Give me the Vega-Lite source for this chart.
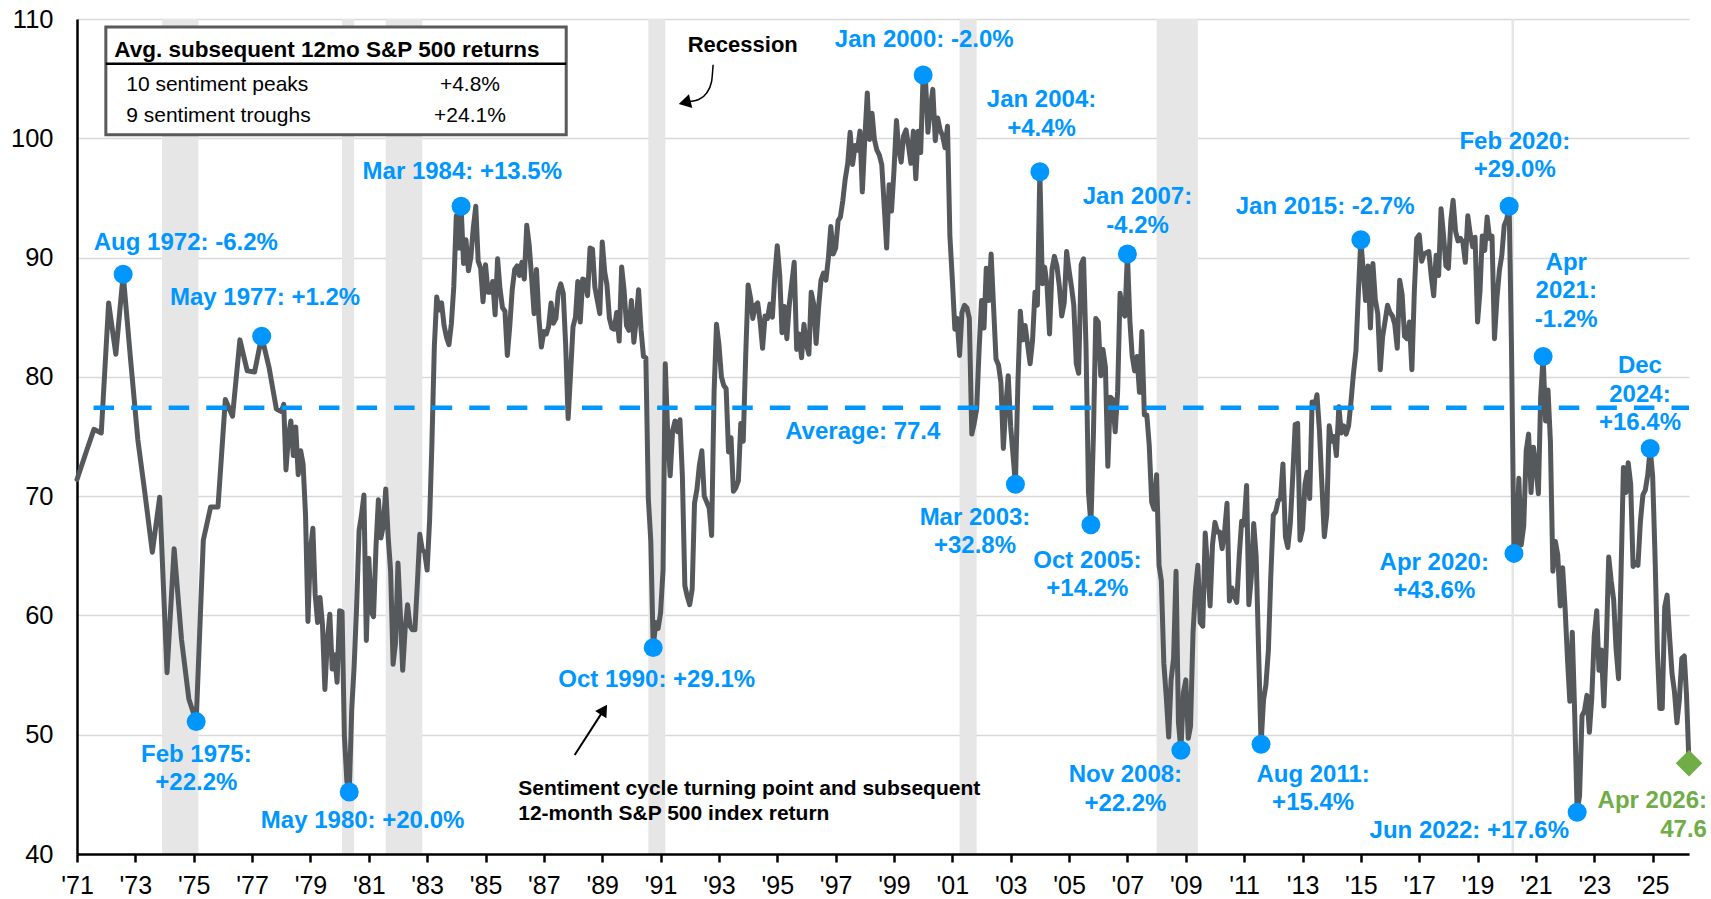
{
  "$schema": "https://vega.github.io/schema/vega-lite/v6.json",
  "width": 1612,
  "height": 835,
  "autosize": {"type": "none"},
  "padding": {"left": 77, "top": 19, "right": 22, "bottom": 45},
  "background": "white",
  "config": {"view": {"stroke": null}, "font": "Liberation Sans"},
  "datasets": {
    "rec": [
      {"start": "1973-12-01", "end": "1975-03-01"},
      {"start": "1980-02-01", "end": "1980-07-01"},
      {"start": "1981-08-01", "end": "1982-11-01"},
      {"start": "1990-08-01", "end": "1991-03-01"},
      {"start": "2001-04-01", "end": "2001-11-01"},
      {"start": "2008-01-01", "end": "2009-06-01"},
      {"start": "2020-03-01", "end": "2020-04-01"}
    ],
    "sent": [
      {"date":"1971-01-01","v":71.4},{"date":"1971-05-01","v":73.8},{"date":"1971-08-01","v":75.6},{"date":"1971-11-01","v":75.3},
      {"date":"1972-02-01","v":86.2},{"date":"1972-05-01","v":81.9},{"date":"1972-08-01","v":88.6},{"date":"1972-11-01","v":81.5},
      {"date":"1973-02-01","v":74.7},{"date":"1973-05-01","v":70.2},{"date":"1973-08-01","v":65.3},{"date":"1973-11-01","v":69.9},
      {"date":"1974-02-01","v":55.2},{"date":"1974-05-01","v":65.6},{"date":"1974-08-01","v":58.0},{"date":"1974-11-01","v":53.0},
      {"date":"1975-02-01","v":51.1},{"date":"1975-05-01","v":66.3},{"date":"1975-08-01","v":69.1},{"date":"1975-11-01","v":69.1},
      {"date":"1976-02-01","v":78.1},{"date":"1976-05-01","v":76.7},{"date":"1976-08-01","v":83.1},{"date":"1976-11-01","v":80.5},
      {"date":"1977-02-01","v":80.4},{"date":"1977-05-01","v":83.4},{"date":"1977-08-01","v":80.8},{"date":"1977-11-01","v":77.3},
      {"date":"1978-01-01","v":77.1},{"date":"1978-02-01","v":77.7},{"date":"1978-03-01","v":72.2},{"date":"1978-04-01","v":75.0},{"date":"1978-05-01","v":76.3},{"date":"1978-06-01","v":73.4},{"date":"1978-07-01","v":75.8},{"date":"1978-08-01","v":71.8},{"date":"1978-09-01","v":73.8},{"date":"1978-10-01","v":72.7},{"date":"1978-11-01","v":68.4},{"date":"1978-12-01","v":59.5},
      {"date":"1979-01-01","v":65.5},{"date":"1979-02-01","v":67.3},{"date":"1979-03-01","v":61.8},{"date":"1979-04-01","v":59.4},{"date":"1979-05-01","v":61.5},{"date":"1979-06-01","v":59.2},{"date":"1979-07-01","v":53.8},{"date":"1979-08-01","v":57.9},{"date":"1979-09-01","v":60.1},{"date":"1979-10-01","v":55.5},{"date":"1979-11-01","v":56.7},{"date":"1979-12-01","v":54.4},
      {"date":"1980-01-01","v":60.4},{"date":"1980-02-01","v":60.3},{"date":"1980-03-01","v":49.9},{"date":"1980-04-01","v":46.1},{"date":"1980-05-01","v":45.2},{"date":"1980-06-01","v":52.1},{"date":"1980-07-01","v":55.7},{"date":"1980-08-01","v":60.7},{"date":"1980-09-01","v":67.1},{"date":"1980-10-01","v":68.4},{"date":"1980-11-01","v":70.1},{"date":"1980-12-01","v":57.9},
      {"date":"1981-01-01","v":64.8},{"date":"1981-02-01","v":60.3},{"date":"1981-03-01","v":59.9},{"date":"1981-04-01","v":65.8},{"date":"1981-05-01","v":69.7},{"date":"1981-06-01","v":66.5},{"date":"1981-07-01","v":67.5},{"date":"1981-08-01","v":70.6},{"date":"1981-09-01","v":66.5},{"date":"1981-10-01","v":63.7},{"date":"1981-11-01","v":55.9},{"date":"1981-12-01","v":57.7},
      {"date":"1982-01-01","v":64.4},{"date":"1982-02-01","v":59.9},{"date":"1982-03-01","v":55.4},{"date":"1982-04-01","v":58.9},{"date":"1982-05-01","v":60.9},{"date":"1982-06-01","v":59.1},{"date":"1982-07-01","v":58.8},{"date":"1982-08-01","v":58.8},{"date":"1982-09-01","v":62.7},{"date":"1982-10-01","v":66.8},{"date":"1982-11-01","v":65.5},{"date":"1982-12-01","v":65.3},
      {"date":"1983-01-01","v":63.8},{"date":"1983-02-01","v":68.0},{"date":"1983-03-01","v":74.2},{"date":"1983-04-01","v":82.5},{"date":"1983-05-01","v":86.7},{"date":"1983-06-01","v":85.6},{"date":"1983-07-01","v":86.2},{"date":"1983-08-01","v":84.3},{"date":"1983-09-01","v":83.3},{"date":"1983-10-01","v":82.7},{"date":"1983-11-01","v":84.5},{"date":"1983-12-01","v":87.6},
      {"date":"1984-01-01","v":93.5},{"date":"1984-02-01","v":90.8},{"date":"1984-03-01","v":94.3},{"date":"1984-04-01","v":89.5},{"date":"1984-05-01","v":91.5},{"date":"1984-06-01","v":88.9},{"date":"1984-07-01","v":90.0},{"date":"1984-08-01","v":92.5},{"date":"1984-09-01","v":94.3},{"date":"1984-10-01","v":89.7},{"date":"1984-11-01","v":89.1},{"date":"1984-12-01","v":86.3},
      {"date":"1985-01-01","v":89.4},{"date":"1985-02-01","v":87.1},{"date":"1985-03-01","v":87.1},{"date":"1985-04-01","v":88.0},{"date":"1985-05-01","v":85.2},{"date":"1985-06-01","v":89.9},{"date":"1985-07-01","v":87.4},{"date":"1985-08-01","v":85.8},{"date":"1985-09-01","v":85.5},{"date":"1985-10-01","v":81.8},{"date":"1985-11-01","v":84.3},{"date":"1985-12-01","v":87.3},
      {"date":"1986-01-01","v":89.0},{"date":"1986-02-01","v":89.3},{"date":"1986-03-01","v":88.5},{"date":"1986-04-01","v":89.6},{"date":"1986-05-01","v":88.2},{"date":"1986-06-01","v":92.7},{"date":"1986-07-01","v":91.1},{"date":"1986-08-01","v":88.3},{"date":"1986-09-01","v":85.3},{"date":"1986-10-01","v":89.0},{"date":"1986-11-01","v":84.8},{"date":"1986-12-01","v":82.5},
      {"date":"1987-01-01","v":83.8},{"date":"1987-02-01","v":83.6},{"date":"1987-03-01","v":84.2},{"date":"1987-04-01","v":86.2},{"date":"1987-05-01","v":84.5},{"date":"1987-06-01","v":84.9},{"date":"1987-07-01","v":87.1},{"date":"1987-08-01","v":87.8},{"date":"1987-09-01","v":87.0},{"date":"1987-10-01","v":82.7},{"date":"1987-11-01","v":76.5},{"date":"1987-12-01","v":80.2},
      {"date":"1988-01-01","v":84.2},{"date":"1988-02-01","v":85.0},{"date":"1988-03-01","v":88.0},{"date":"1988-04-01","v":84.6},{"date":"1988-05-01","v":88.2},{"date":"1988-06-01","v":88.1},{"date":"1988-07-01","v":86.8},{"date":"1988-08-01","v":90.8},{"date":"1988-09-01","v":90.7},{"date":"1988-10-01","v":87.5},{"date":"1988-11-01","v":86.4},{"date":"1988-12-01","v":85.3},
      {"date":"1989-01-01","v":91.3},{"date":"1989-02-01","v":88.8},{"date":"1989-03-01","v":87.7},{"date":"1989-04-01","v":84.9},{"date":"1989-05-01","v":84.1},{"date":"1989-06-01","v":84.0},{"date":"1989-07-01","v":85.4},{"date":"1989-08-01","v":83.0},{"date":"1989-09-01","v":89.2},{"date":"1989-10-01","v":87.3},{"date":"1989-11-01","v":84.3},{"date":"1989-12-01","v":83.9},
      {"date":"1990-01-01","v":86.4},{"date":"1990-02-01","v":82.9},{"date":"1990-03-01","v":84.7},{"date":"1990-04-01","v":87.3},{"date":"1990-05-01","v":84.0},{"date":"1990-06-01","v":81.7},{"date":"1990-07-01","v":81.6},{"date":"1990-08-01","v":69.8},{"date":"1990-09-01","v":66.2},{"date":"1990-10-01","v":57.3},{"date":"1990-11-01","v":59.4},{"date":"1990-12-01","v":58.9},
      {"date":"1991-01-01","v":60.2},{"date":"1991-02-01","v":63.8},{"date":"1991-03-01","v":81.1},{"date":"1991-04-01","v":75.2},{"date":"1991-05-01","v":71.7},{"date":"1991-06-01","v":75.5},{"date":"1991-07-01","v":76.3},{"date":"1991-08-01","v":75.4},{"date":"1991-09-01","v":76.4},{"date":"1991-10-01","v":71.7},{"date":"1991-11-01","v":62.5},{"date":"1991-12-01","v":61.6},
      {"date":"1992-01-01","v":60.9},{"date":"1992-02-01","v":62.2},{"date":"1992-03-01","v":69.4},{"date":"1992-04-01","v":70.6},{"date":"1992-05-01","v":72.6},{"date":"1992-06-01","v":73.8},{"date":"1992-07-01","v":70.0},{"date":"1992-08-01","v":69.5},{"date":"1992-09-01","v":69.0},{"date":"1992-10-01","v":66.7},{"date":"1992-11-01","v":78.7},{"date":"1992-12-01","v":84.4},
      {"date":"1993-01-01","v":82.7},{"date":"1993-02-01","v":80.0},{"date":"1993-03-01","v":79.3},{"date":"1993-04-01","v":79.0},{"date":"1993-05-01","v":73.7},{"date":"1993-06-01","v":74.9},{"date":"1993-07-01","v":70.4},{"date":"1993-08-01","v":70.7},{"date":"1993-09-01","v":71.3},{"date":"1993-10-01","v":76.1},{"date":"1993-11-01","v":74.6},{"date":"1993-12-01","v":81.6},
      {"date":"1994-01-01","v":87.7},{"date":"1994-02-01","v":86.6},{"date":"1994-03-01","v":84.9},{"date":"1994-04-01","v":86.0},{"date":"1994-05-01","v":86.2},{"date":"1994-06-01","v":84.6},{"date":"1994-07-01","v":82.4},{"date":"1994-08-01","v":85.1},{"date":"1994-09-01","v":84.9},{"date":"1994-10-01","v":86.1},{"date":"1994-11-01","v":85.0},{"date":"1994-12-01","v":88.5},
      {"date":"1995-01-01","v":91.0},{"date":"1995-02-01","v":88.5},{"date":"1995-03-01","v":83.7},{"date":"1995-04-01","v":85.9},{"date":"1995-05-01","v":83.2},{"date":"1995-06-01","v":86.1},{"date":"1995-07-01","v":87.8},{"date":"1995-08-01","v":89.6},{"date":"1995-09-01","v":82.3},{"date":"1995-10-01","v":83.6},{"date":"1995-11-01","v":81.6},{"date":"1995-12-01","v":84.4},
      {"date":"1996-01-01","v":82.7},{"date":"1996-02-01","v":81.9},{"date":"1996-03-01","v":87.1},{"date":"1996-04-01","v":86.1},{"date":"1996-05-01","v":82.8},{"date":"1996-06-01","v":85.8},{"date":"1996-07-01","v":88.1},{"date":"1996-08-01","v":88.7},{"date":"1996-09-01","v":88.1},{"date":"1996-10-01","v":89.9},{"date":"1996-11-01","v":92.6},{"date":"1996-12-01","v":90.3},
      {"date":"1997-01-01","v":90.8},{"date":"1997-02-01","v":93.1},{"date":"1997-03-01","v":93.4},{"date":"1997-04-01","v":94.8},{"date":"1997-05-01","v":96.6},{"date":"1997-06-01","v":97.9},{"date":"1997-07-01","v":100.5},{"date":"1997-08-01","v":97.8},{"date":"1997-09-01","v":99.4},{"date":"1997-10-01","v":99.0},{"date":"1997-11-01","v":100.6},{"date":"1997-12-01","v":95.5},
      {"date":"1998-01-01","v":100.0},{"date":"1998-02-01","v":103.8},{"date":"1998-03-01","v":99.9},{"date":"1998-04-01","v":102.1},{"date":"1998-05-01","v":99.9},{"date":"1998-06-01","v":99.0},{"date":"1998-07-01","v":98.6},{"date":"1998-08-01","v":97.8},{"date":"1998-09-01","v":94.3},{"date":"1998-10-01","v":90.8},{"date":"1998-11-01","v":96.1},{"date":"1998-12-01","v":93.9},
      {"date":"1999-01-01","v":97.3},{"date":"1999-02-01","v":101.5},{"date":"1999-03-01","v":99.1},{"date":"1999-04-01","v":98.0},{"date":"1999-05-01","v":100.2},{"date":"1999-06-01","v":100.7},{"date":"1999-07-01","v":99.4},{"date":"1999-08-01","v":97.9},{"date":"1999-09-01","v":100.6},{"date":"1999-10-01","v":96.6},{"date":"1999-11-01","v":100.6},{"date":"1999-12-01","v":98.8},
      {"date":"2000-01-01","v":105.3},{"date":"2000-02-01","v":104.7},{"date":"2000-03-01","v":100.5},{"date":"2000-04-01","v":102.6},{"date":"2000-05-01","v":104.1},{"date":"2000-06-01","v":99.8},{"date":"2000-07-01","v":101.7},{"date":"2000-08-01","v":100.7},{"date":"2000-09-01","v":100.2},{"date":"2000-10-01","v":99.2},{"date":"2000-11-01","v":101.0},{"date":"2000-12-01","v":91.8},
      {"date":"2001-01-01","v":88.1},{"date":"2001-02-01","v":84.0},{"date":"2001-03-01","v":84.9},{"date":"2001-04-01","v":81.8},{"date":"2001-05-01","v":85.4},{"date":"2001-06-01","v":86.0},{"date":"2001-07-01","v":85.8},{"date":"2001-08-01","v":84.9},{"date":"2001-09-01","v":75.2},{"date":"2001-10-01","v":76.1},{"date":"2001-11-01","v":77.3},{"date":"2001-12-01","v":82.2},
      {"date":"2002-01-01","v":86.4},{"date":"2002-02-01","v":84.1},{"date":"2002-03-01","v":89.1},{"date":"2002-04-01","v":86.4},{"date":"2002-05-01","v":90.3},{"date":"2002-06-01","v":85.8},{"date":"2002-07-01","v":81.5},{"date":"2002-08-01","v":81.0},{"date":"2002-09-01","v":79.5},{"date":"2002-10-01","v":74.0},{"date":"2002-11-01","v":77.6},{"date":"2002-12-01","v":80.1},
      {"date":"2003-01-01","v":75.8},{"date":"2003-02-01","v":73.3},{"date":"2003-03-01","v":71.0},{"date":"2003-04-01","v":79.4},{"date":"2003-05-01","v":85.5},{"date":"2003-06-01","v":83.1},{"date":"2003-07-01","v":84.3},{"date":"2003-08-01","v":82.7},{"date":"2003-09-01","v":81.1},{"date":"2003-10-01","v":83.0},{"date":"2003-11-01","v":87.1},{"date":"2003-12-01","v":86.0},
      {"date":"2004-01-01","v":97.2},{"date":"2004-02-01","v":87.8},{"date":"2004-03-01","v":89.2},{"date":"2004-04-01","v":87.6},{"date":"2004-05-01","v":83.6},{"date":"2004-06-01","v":89.0},{"date":"2004-07-01","v":90.1},{"date":"2004-08-01","v":89.3},{"date":"2004-09-01","v":87.6},{"date":"2004-10-01","v":85.1},{"date":"2004-11-01","v":86.2},{"date":"2004-12-01","v":90.5},
      {"date":"2005-01-01","v":88.9},{"date":"2005-02-01","v":87.5},{"date":"2005-03-01","v":86.0},{"date":"2005-04-01","v":81.1},{"date":"2005-05-01","v":80.3},{"date":"2005-06-01","v":89.4},{"date":"2005-07-01","v":89.9},{"date":"2005-08-01","v":82.5},{"date":"2005-09-01","v":70.3},{"date":"2005-10-01","v":67.6},{"date":"2005-11-01","v":75.0},{"date":"2005-12-01","v":84.9},
      {"date":"2006-01-01","v":84.6},{"date":"2006-02-01","v":80.1},{"date":"2006-03-01","v":82.3},{"date":"2006-04-01","v":80.8},{"date":"2006-05-01","v":72.5},{"date":"2006-06-01","v":78.3},{"date":"2006-07-01","v":78.1},{"date":"2006-08-01","v":75.4},{"date":"2006-09-01","v":78.8},{"date":"2006-10-01","v":87.0},{"date":"2006-11-01","v":85.5},{"date":"2006-12-01","v":85.1},
      {"date":"2007-01-01","v":90.3},{"date":"2007-02-01","v":84.7},{"date":"2007-03-01","v":81.8},{"date":"2007-04-01","v":80.5},{"date":"2007-05-01","v":81.7},{"date":"2007-06-01","v":78.7},{"date":"2007-07-01","v":83.8},{"date":"2007-08-01","v":76.8},{"date":"2007-09-01","v":76.8},{"date":"2007-10-01","v":74.3},{"date":"2007-11-01","v":69.5},{"date":"2007-12-01","v":68.9},
      {"date":"2008-01-01","v":71.8},{"date":"2008-02-01","v":64.2},{"date":"2008-03-01","v":62.9},{"date":"2008-04-01","v":56.0},{"date":"2008-05-01","v":53.2},{"date":"2008-06-01","v":49.8},{"date":"2008-07-01","v":54.6},{"date":"2008-08-01","v":56.4},{"date":"2008-09-01","v":63.7},{"date":"2008-10-01","v":51.0},{"date":"2008-11-01","v":48.7},{"date":"2008-12-01","v":53.5},
      {"date":"2009-01-01","v":54.6},{"date":"2009-02-01","v":49.7},{"date":"2009-03-01","v":50.7},{"date":"2009-04-01","v":58.5},{"date":"2009-05-01","v":62.1},{"date":"2009-06-01","v":64.2},{"date":"2009-07-01","v":59.4},{"date":"2009-08-01","v":59.1},{"date":"2009-09-01","v":66.9},{"date":"2009-10-01","v":64.0},{"date":"2009-11-01","v":60.8},{"date":"2009-12-01","v":65.9},
      {"date":"2010-01-01","v":67.8},{"date":"2010-02-01","v":67.0},{"date":"2010-03-01","v":67.0},{"date":"2010-04-01","v":65.6},{"date":"2010-05-01","v":67.0},{"date":"2010-06-01","v":69.4},{"date":"2010-07-01","v":61.2},{"date":"2010-08-01","v":62.3},{"date":"2010-09-01","v":61.6},{"date":"2010-10-01","v":61.1},{"date":"2010-11-01","v":65.0},{"date":"2010-12-01","v":67.9},
      {"date":"2011-01-01","v":67.6},{"date":"2011-02-01","v":70.9},{"date":"2011-03-01","v":60.9},{"date":"2011-04-01","v":63.2},{"date":"2011-05-01","v":67.7},{"date":"2011-06-01","v":64.9},{"date":"2011-07-01","v":57.1},{"date":"2011-08-01","v":49.2},{"date":"2011-09-01","v":52.9},{"date":"2011-10-01","v":54.2},{"date":"2011-11-01","v":57.1},{"date":"2011-12-01","v":63.3},
      {"date":"2012-01-01","v":68.4},{"date":"2012-02-01","v":68.7},{"date":"2012-03-01","v":69.6},{"date":"2012-04-01","v":69.8},{"date":"2012-05-01","v":72.7},{"date":"2012-06-01","v":66.6},{"date":"2012-07-01","v":65.7},{"date":"2012-08-01","v":67.7},{"date":"2012-09-01","v":71.7},{"date":"2012-10-01","v":76.0},{"date":"2012-11-01","v":76.1},{"date":"2012-12-01","v":66.3},
      {"date":"2013-01-01","v":67.2},{"date":"2013-02-01","v":71.0},{"date":"2013-03-01","v":72.0},{"date":"2013-04-01","v":69.8},{"date":"2013-05-01","v":77.9},{"date":"2013-06-01","v":77.5},{"date":"2013-07-01","v":78.5},{"date":"2013-08-01","v":75.5},{"date":"2013-09-01","v":70.9},{"date":"2013-10-01","v":66.6},{"date":"2013-11-01","v":68.5},{"date":"2013-12-01","v":75.9},
      {"date":"2014-01-01","v":74.6},{"date":"2014-02-01","v":75.0},{"date":"2014-03-01","v":73.4},{"date":"2014-04-01","v":77.5},{"date":"2014-05-01","v":75.3},{"date":"2014-06-01","v":75.9},{"date":"2014-07-01","v":75.2},{"date":"2014-08-01","v":75.9},{"date":"2014-09-01","v":78.0},{"date":"2014-10-01","v":80.3},{"date":"2014-11-01","v":82.2},{"date":"2014-12-01","v":87.0},
      {"date":"2015-01-01","v":91.5},{"date":"2015-02-01","v":88.8},{"date":"2015-03-01","v":86.4},{"date":"2015-04-01","v":89.3},{"date":"2015-05-01","v":84.1},{"date":"2015-06-01","v":89.5},{"date":"2015-07-01","v":86.5},{"date":"2015-08-01","v":85.3},{"date":"2015-09-01","v":80.6},{"date":"2015-10-01","v":83.4},{"date":"2015-11-01","v":84.7},{"date":"2015-12-01","v":86.0},
      {"date":"2016-01-01","v":85.4},{"date":"2016-02-01","v":85.1},{"date":"2016-03-01","v":84.4},{"date":"2016-04-01","v":82.4},{"date":"2016-05-01","v":88.1},{"date":"2016-06-01","v":86.9},{"date":"2016-07-01","v":83.4},{"date":"2016-08-01","v":83.2},{"date":"2016-09-01","v":84.6},{"date":"2016-10-01","v":80.6},{"date":"2016-11-01","v":87.2},{"date":"2016-12-01","v":91.6},
      {"date":"2017-01-01","v":91.9},{"date":"2017-02-01","v":89.7},{"date":"2017-03-01","v":90.3},{"date":"2017-04-01","v":90.4},{"date":"2017-05-01","v":90.5},{"date":"2017-06-01","v":88.4},{"date":"2017-07-01","v":86.8},{"date":"2017-08-01","v":90.2},{"date":"2017-09-01","v":88.5},{"date":"2017-10-01","v":94.1},{"date":"2017-11-01","v":91.9},{"date":"2017-12-01","v":89.3},
      {"date":"2018-01-01","v":89.1},{"date":"2018-02-01","v":93.1},{"date":"2018-03-01","v":94.8},{"date":"2018-04-01","v":92.2},{"date":"2018-05-01","v":91.4},{"date":"2018-06-01","v":91.6},{"date":"2018-07-01","v":91.3},{"date":"2018-08-01","v":89.6},{"date":"2018-09-01","v":93.5},{"date":"2018-10-01","v":92.0},{"date":"2018-11-01","v":90.9},{"date":"2018-12-01","v":91.7},
      {"date":"2019-01-01","v":84.6},{"date":"2019-02-01","v":87.2},{"date":"2019-03-01","v":91.8},{"date":"2019-04-01","v":90.6},{"date":"2019-05-01","v":93.4},{"date":"2019-06-01","v":91.6},{"date":"2019-07-01","v":91.8},{"date":"2019-08-01","v":83.2},{"date":"2019-09-01","v":86.6},{"date":"2019-10-01","v":88.9},{"date":"2019-11-01","v":90.2},{"date":"2019-12-01","v":92.7},
      {"date":"2020-01-01","v":93.2},{"date":"2020-02-01","v":94.3},{"date":"2020-03-01","v":82.5},{"date":"2020-04-01","v":65.2},{"date":"2020-05-01","v":65.7},{"date":"2020-06-01","v":71.5},{"date":"2020-07-01","v":65.9},{"date":"2020-08-01","v":67.5},{"date":"2020-09-01","v":73.8},{"date":"2020-10-01","v":75.2},{"date":"2020-11-01","v":70.3},{"date":"2020-12-01","v":74.1},
      {"date":"2021-01-01","v":72.4},{"date":"2021-02-01","v":70.2},{"date":"2021-03-01","v":78.3},{"date":"2021-04-01","v":81.7},{"date":"2021-05-01","v":76.3},{"date":"2021-06-01","v":78.9},{"date":"2021-07-01","v":74.6},{"date":"2021-08-01","v":63.7},{"date":"2021-09-01","v":66.2},{"date":"2021-10-01","v":65.1},{"date":"2021-11-01","v":60.8},{"date":"2021-12-01","v":64.0},
      {"date":"2022-01-01","v":60.6},{"date":"2022-02-01","v":56.2},{"date":"2022-03-01","v":52.8},{"date":"2022-04-01","v":58.6},{"date":"2022-05-01","v":51.8},{"date":"2022-06-01","v":43.5},{"date":"2022-07-01","v":44.9},{"date":"2022-08-01","v":51.6},{"date":"2022-09-01","v":52.0},{"date":"2022-10-01","v":53.3},{"date":"2022-11-01","v":50.2},{"date":"2022-12-01","v":53.1},
      {"date":"2023-01-01","v":58.3},{"date":"2023-02-01","v":60.4},{"date":"2023-03-01","v":55.4},{"date":"2023-04-01","v":57.1},{"date":"2023-05-01","v":52.4},{"date":"2023-06-01","v":57.6},{"date":"2023-07-01","v":64.9},{"date":"2023-08-01","v":62.9},{"date":"2023-09-01","v":61.3},{"date":"2023-10-01","v":57.2},{"date":"2023-11-01","v":54.7},{"date":"2023-12-01","v":63.1},
      {"date":"2024-01-01","v":72.4},{"date":"2024-02-01","v":70.3},{"date":"2024-03-01","v":72.8},{"date":"2024-04-01","v":71.0},{"date":"2024-05-01","v":64.1},{"date":"2024-06-01","v":64.4},{"date":"2024-07-01","v":64.2},{"date":"2024-08-01","v":67.9},{"date":"2024-09-01","v":70.1},{"date":"2024-10-01","v":70.5},{"date":"2024-11-01","v":71.8},{"date":"2024-12-01","v":74.0},
      {"date":"2025-01-01","v":71.7},{"date":"2025-02-01","v":64.7},{"date":"2025-03-01","v":57.0},{"date":"2025-04-01","v":52.2},{"date":"2025-05-01","v":52.2},{"date":"2025-06-01","v":60.7},{"date":"2025-07-01","v":61.7},{"date":"2025-08-01","v":58.2},{"date":"2025-09-01","v":55.1},{"date":"2025-10-01","v":53.6},{"date":"2025-11-01","v":51.0},{"date":"2025-12-01","v":52.9},
      {"date":"2026-01-01","v":56.4},{"date":"2026-02-01","v":56.6},{"date":"2026-03-01","v":53.3},{"date":"2026-04-01","v":47.6}
    ],
    "turns": [
      {"date":"1972-08-01","v":88.6},{"date":"1975-02-01","v":51.1},{"date":"1977-05-01","v":83.4},{"date":"1980-05-01","v":45.2},
      {"date":"1984-03-01","v":94.3},{"date":"1990-10-01","v":57.3},{"date":"2000-01-01","v":105.3},{"date":"2003-03-01","v":71.0},
      {"date":"2004-01-01","v":97.2},{"date":"2005-10-01","v":67.6},{"date":"2007-01-01","v":90.3},{"date":"2008-11-01","v":48.7},
      {"date":"2011-08-01","v":49.2},{"date":"2015-01-01","v":91.5},{"date":"2020-02-01","v":94.3},{"date":"2020-04-01","v":65.2},
      {"date":"2021-04-01","v":81.7},{"date":"2022-06-01","v":43.5},{"date":"2024-12-01","v":74.0}
    ],
    "latest": [{"date":"2026-04-01","v":47.6}],
    "avg": [{"v":77.4}],
    "lab": [
      {"date":"1974-09-24","v":91.2,"text":"Aug 1972: -6.2%"},
      {"date":"1977-06-12","v":86.6,"text":"May 1977: +1.2%"},
      {"date":"1975-02-03","v":48.3,"text":"Feb 1975:\n+22.2%"},
      {"date":"1980-10-15","v":42.8,"text":"May 1980: +20.0%"},
      {"date":"1984-03-16","v":97.2,"text":"Mar 1984: +13.5%"},
      {"date":"1990-11-14","v":54.6,"text":"Oct 1990: +29.1%"},
      {"date":"2000-01-15","v":108.2,"text":"Jan 2000: -2.0%"},
      {"date":"2004-01-22","v":103.2,"text":"Jan 2004:\n+4.4%"},
      {"date":"2007-05-07","v":95.05,"text":"Jan 2007:\n-4.2%"},
      {"date":"2001-10-11","v":68.2,"text":"Mar 2003:\n+32.8%"},
      {"date":"2005-08-18","v":64.6,"text":"Oct 2005:\n+14.2%"},
      {"date":"2006-12-07","v":46.6,"text":"Nov 2008:\n+22.2%"},
      {"date":"2013-05-14","v":46.65,"text":"Aug 2011:\n+15.4%"},
      {"date":"2013-10-11","v":94.2,"text":"Jan 2015: -2.7%"},
      {"date":"2020-04-11","v":99.7,"text":"Feb 2020:\n+29.0%"},
      {"date":"2022-01-15","v":89.56,"text":"Apr\n2021:\n-1.2%"},
      {"date":"2017-07-08","v":64.42,"text":"Apr 2020:\n+43.6%"},
      {"date":"2024-07-26","v":80.87,"text":"Dec\n2024:\n+16.4%"},
      {"date":"2018-09-20","v":41.95,"text":"Jun 2022: +17.6%"},
      {"date":"1997-12-06","v":75.4,"text":"Average: 77.4"}
    ],
    "recnote": [{"date":"1993-10-26","v":107.8,"text":"Recession"}],
    "leftnote": [{"date":"1986-02-14","v":45.45,"text":"Sentiment cycle turning point and subsequent\n12-month S&P 500 index return"}],
    "latestlab": [{"date":"2026-11-12","v":44.41,"text":"Apr 2026:\n47.6"}],
    "box": [{"d1":"1971-12-28","d2":"1987-10-08","v1":109.32,"v2":100.29}],
    "boxline": [{"d1":"1971-12-28","d2":"1987-10-08","v":106.24}],
    "boxhead": [{"date":"1972-04-12","v":106.83,"text":"Avg. subsequent 12mo S&P 500 returns"}],
    "boxrows": [
      {"date":"1972-09-08","v":104.0,"text":"10 sentiment peaks"},
      {"date":"1972-09-08","v":101.4,"text":"9 sentiment troughs"}
    ],
    "boxvals": [
      {"date":"1984-06-20","v":104.0,"text":"+4.8%"},
      {"date":"1984-06-20","v":101.4,"text":"+24.1%"}
    ],
    "arrow": [{"d1":"1988-01-22","v1":48.3,"d2":"1989-01-22","v2":52.1}],
    "arrowhead": [{"date":"1989-01-22","v":52.1}],
    "curve": [
      {"date":"1992-01-04","v":103.08},
      {"date":"1992-04-15","v":103.23},
      {"date":"1992-07-30","v":103.79},
      {"date":"1992-10-01","v":104.76},
      {"date":"1992-10-20","v":106.16}
    ],
    "curvehead": [{"date":"1991-10-30","v":103.0}]
  },
  "layer": [
    {
      "data": {"name": "rec"},
      "mark": {"type": "rect", "color": "#e6e6e6"},
      "encoding": {
        "x": {"field": "start", "type": "temporal", "title": null,
          "scale": {"domain": [{"year": 1971, "month": 1, "date": 1}, {"year": 2026, "month": 4, "date": 1}]},
          "axis": {
            "values": [{"year":1971},{"year":1973},{"year":1975},{"year":1977},{"year":1979},{"year":1981},{"year":1983},{"year":1985},{"year":1987},{"year":1989},{"year":1991},{"year":1993},{"year":1995},{"year":1997},{"year":1999},{"year":2001},{"year":2003},{"year":2005},{"year":2007},{"year":2009},{"year":2011},{"year":2013},{"year":2015},{"year":2017},{"year":2019},{"year":2021},{"year":2023},{"year":2025}],
            "labelExpr": "\"'\" + timeFormat(datum.value, '%y')",
            "labelFont": "Liberation Sans", "labelFontSize": 25, "labelColor": "#000000",
            "labelPadding": 11, "labelFlush": false, "labelOverlap": false,
            "tickSize": 8, "tickWidth": 2.5, "tickColor": "#000000",
            "domainColor": "#000000", "domainWidth": 2.5,
            "grid": false, "zindex": 1, "title": null
          }
        },
        "x2": {"field": "end"}
      }
    },
    {
      "data": {"name": "box"},
      "mark": {"type": "rect", "fill": "#ffffff", "stroke": "#5a5a5a", "strokeWidth": 3},
      "encoding": {
        "x": {"field": "d1", "type": "temporal", "title": null},
        "x2": {"field": "d2"},
        "y": {"field": "v1", "type": "quantitative", "title": null},
        "y2": {"field": "v2"}
      }
    },
    {
      "data": {"name": "boxline"},
      "mark": {"type": "rule", "color": "#000000", "strokeWidth": 2.5},
      "encoding": {
        "x": {"field": "d1", "type": "temporal", "title": null},
        "x2": {"field": "d2"},
        "y": {"field": "v", "type": "quantitative", "title": null}
      }
    },
    {
      "data": {"name": "sent"},
      "mark": {"type": "line", "color": "#56595c", "strokeWidth": 5, "strokeJoin": "round", "strokeCap": "round"},
      "encoding": {
        "x": {"field": "date", "type": "temporal", "title": null},
        "y": {"field": "v", "type": "quantitative", "title": null,
          "scale": {"domain": [40, 110], "nice": false, "zero": false},
          "axis": {
            "values": [40, 50, 60, 70, 80, 90, 100, 110],
            "labelFont": "Liberation Sans", "labelFontSize": 25.5, "labelColor": "#000000",
            "labelPadding": 24, "labelFlush": false, "ticks": false,
            "domainColor": "#000000", "domainWidth": 2.5,
            "grid": true, "gridColor": "#d9d9d9", "gridWidth": 1.5,
            "zindex": 0, "title": null
          }
        }
      }
    },
    {
      "data": {"name": "avg"},
      "mark": {"type": "rule", "color": "#0096ff", "strokeWidth": 4.5, "strokeDash": [20.5, 17.07], "strokeDashOffset": 3},
      "encoding": {"y": {"field": "v", "type": "quantitative", "title": null}}
    },
    {
      "data": {"name": "turns"},
      "mark": {"type": "point", "shape": "circle", "filled": true, "opacity": 1, "color": "#0096ff", "size": 360},
      "encoding": {
        "x": {"field": "date", "type": "temporal", "title": null},
        "y": {"field": "v", "type": "quantitative", "title": null}
      }
    },
    {
      "data": {"name": "latest"},
      "mark": {"type": "point", "shape": "diamond", "filled": true, "opacity": 1, "color": "#70ad47", "size": 700},
      "encoding": {
        "x": {"field": "date", "type": "temporal", "title": null},
        "y": {"field": "v", "type": "quantitative", "title": null}
      }
    },
    {
      "data": {"name": "lab"},
      "mark": {"type": "text", "font": "Liberation Sans", "fontWeight": "bold", "fontSize": 24, "color": "#0096ff", "align": "center", "baseline": "middle", "lineBreak": "\n", "lineHeight": 28.5},
      "encoding": {
        "x": {"field": "date", "type": "temporal", "title": null},
        "y": {"field": "v", "type": "quantitative", "title": null},
        "text": {"field": "text"}
      }
    },
    {
      "data": {"name": "latestlab"},
      "mark": {"type": "text", "font": "Liberation Sans", "fontWeight": "bold", "fontSize": 24, "color": "#70ad47", "align": "right", "baseline": "middle", "lineBreak": "\n", "lineHeight": 28.5},
      "encoding": {
        "x": {"field": "date", "type": "temporal", "title": null},
        "y": {"field": "v", "type": "quantitative", "title": null},
        "text": {"field": "text"}
      }
    },
    {
      "data": {"name": "recnote"},
      "mark": {"type": "text", "font": "Liberation Sans", "fontWeight": "bold", "fontSize": 22, "color": "#000000", "align": "center", "baseline": "middle"},
      "encoding": {
        "x": {"field": "date", "type": "temporal", "title": null},
        "y": {"field": "v", "type": "quantitative", "title": null},
        "text": {"field": "text"}
      }
    },
    {
      "data": {"name": "leftnote"},
      "mark": {"type": "text", "font": "Liberation Sans", "fontWeight": "bold", "fontSize": 21, "color": "#000000", "align": "left", "baseline": "middle", "lineBreak": "\n", "lineHeight": 25},
      "encoding": {
        "x": {"field": "date", "type": "temporal", "title": null},
        "y": {"field": "v", "type": "quantitative", "title": null},
        "text": {"field": "text"}
      }
    },
    {
      "data": {"name": "boxhead"},
      "mark": {"type": "text", "font": "Liberation Sans", "fontWeight": "bold", "fontSize": 22.5, "color": "#000000", "align": "left", "baseline": "alphabetic"},
      "encoding": {
        "x": {"field": "date", "type": "temporal", "title": null},
        "y": {"field": "v", "type": "quantitative", "title": null},
        "text": {"field": "text"}
      }
    },
    {
      "data": {"name": "boxrows"},
      "mark": {"type": "text", "font": "Liberation Sans", "fontSize": 21, "color": "#000000", "align": "left", "baseline": "alphabetic"},
      "encoding": {
        "x": {"field": "date", "type": "temporal", "title": null},
        "y": {"field": "v", "type": "quantitative", "title": null},
        "text": {"field": "text"}
      }
    },
    {
      "data": {"name": "boxvals"},
      "mark": {"type": "text", "font": "Liberation Sans", "fontSize": 21, "color": "#000000", "align": "center", "baseline": "alphabetic"},
      "encoding": {
        "x": {"field": "date", "type": "temporal", "title": null},
        "y": {"field": "v", "type": "quantitative", "title": null},
        "text": {"field": "text"}
      }
    },
    {
      "data": {"name": "arrow"},
      "mark": {"type": "rule", "color": "#000000", "strokeWidth": 2},
      "encoding": {
        "x": {"field": "d1", "type": "temporal", "title": null},
        "x2": {"field": "d2"},
        "y": {"field": "v1", "type": "quantitative", "title": null},
        "y2": {"field": "v2"}
      }
    },
    {
      "data": {"name": "arrowhead"},
      "mark": {"type": "point", "shape": "triangle-up", "filled": true, "opacity": 1, "color": "#000000", "size": 180, "angle": 33},
      "encoding": {
        "x": {"field": "date", "type": "temporal", "title": null},
        "y": {"field": "v", "type": "quantitative", "title": null}
      }
    },
    {
      "data": {"name": "curve"},
      "mark": {"type": "line", "color": "#000000", "strokeWidth": 1.5, "interpolate": "monotone"},
      "encoding": {
        "x": {"field": "date", "type": "temporal", "title": null},
        "y": {"field": "v", "type": "quantitative", "title": null}
      }
    },
    {
      "data": {"name": "curvehead"},
      "mark": {"type": "point", "shape": "triangle-left", "filled": true, "opacity": 1, "color": "#000000", "size": 200, "angle": 346},
      "encoding": {
        "x": {"field": "date", "type": "temporal", "title": null},
        "y": {"field": "v", "type": "quantitative", "title": null}
      }
    }
  ]
}
